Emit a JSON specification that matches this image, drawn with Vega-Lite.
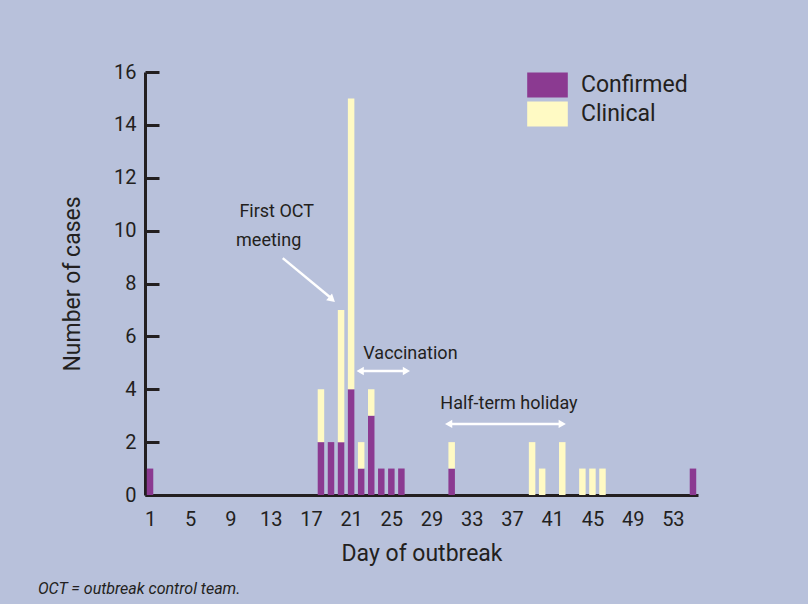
{
  "$schema": "https://vega.github.io/schema/vega-lite/v6.json",
  "autosize": "none",
  "padding": {"left": 145, "top": 72, "right": 110, "bottom": 109},
  "width": 553,
  "height": 423,
  "background": "#b8c1db",
  "config": {
    "font": "Roboto",
    "view": {"stroke": null},
    "text": {"font": "Roboto", "color": "#231f20"}
  },
  "datasets": {
    "cases": [
      {"day": 1, "status": "Confirmed", "n": 1},
      {"day": 18, "status": "Confirmed", "n": 2},
      {"day": 18, "status": "Clinical", "n": 2},
      {"day": 19, "status": "Confirmed", "n": 2},
      {"day": 20, "status": "Confirmed", "n": 2},
      {"day": 20, "status": "Clinical", "n": 5},
      {"day": 21, "status": "Confirmed", "n": 4},
      {"day": 21, "status": "Clinical", "n": 11},
      {"day": 22, "status": "Confirmed", "n": 1},
      {"day": 22, "status": "Clinical", "n": 1},
      {"day": 23, "status": "Confirmed", "n": 3},
      {"day": 23, "status": "Clinical", "n": 1},
      {"day": 24, "status": "Confirmed", "n": 1},
      {"day": 25, "status": "Confirmed", "n": 1},
      {"day": 26, "status": "Confirmed", "n": 1},
      {"day": 31, "status": "Confirmed", "n": 1},
      {"day": 31, "status": "Clinical", "n": 1},
      {"day": 39, "status": "Clinical", "n": 2},
      {"day": 40, "status": "Clinical", "n": 1},
      {"day": 42, "status": "Clinical", "n": 2},
      {"day": 44, "status": "Clinical", "n": 1},
      {"day": 45, "status": "Clinical", "n": 1},
      {"day": 46, "status": "Clinical", "n": 1},
      {"day": 55, "status": "Confirmed", "n": 1}
    ],
    "notes": [
      {"label": "First OCT", "day": 13.6, "cases": 10.7},
      {"label": "meeting", "day": 12.8, "cases": 9.62},
      {"label": "Vaccination", "day": 26.9, "cases": 5.33},
      {"label": "Half-term holiday", "day": 36.7, "cases": 3.44}
    ],
    "arrows": [
      {"day": 14.2, "cases": 8.96, "day2": 19.0, "cases2": 7.45},
      {"day": 21.9, "cases": 4.69, "day2": 26.4, "cases2": 4.69},
      {"day": 30.7, "cases": 2.69, "day2": 41.9, "cases2": 2.69}
    ],
    "heads": [
      {"dir": "diag", "day": 19.1, "cases": 7.4},
      {"dir": "left", "day": 21.9, "cases": 4.69},
      {"dir": "right", "day": 26.5, "cases": 4.69},
      {"dir": "left", "day": 30.7, "cases": 2.69},
      {"dir": "right", "day": 42.0, "cases": 2.69}
    ],
    "foot": [
      {"label": "OCT = outbreak control team.", "day": -10.15, "cases": -3.56}
    ]
  },
  "layer": [
    {
      "data": {"name": "cases"},
      "mark": {"type": "bar", "width": 6.5},
      "encoding": {
        "x": {
          "field": "day", "type": "quantitative",
          "scale": {"domain": [0.5, 55.5], "nice": false, "zero": false, "padding": 0},
          "axis": {
            "values": [1, 5, 9, 13, 17, 21, 25, 29, 33, 37, 41, 45, 49, 53],
            "ticks": false, "grid": false,
            "domainWidth": 3, "domainColor": "#231f20",
            "labelFontSize": 20, "labelColor": "#231f20", "labelPadding": 14,
            "labelFont": "Roboto",
            "title": "Day of outbreak", "titleFontSize": 23, "titleFontWeight": "normal",
            "titleColor": "#231f20", "titlePadding": 13, "titleFont": "Roboto"
          }
        },
        "y": {
          "field": "n", "type": "quantitative", "aggregate": "sum", "stack": "zero",
          "scale": {"domain": [0, 16], "nice": false},
          "axis": {
            "values": [0, 2, 4, 6, 8, 10, 12, 14, 16],
            "grid": false,
            "domainWidth": 3, "domainColor": "#231f20",
            "tickSize": -14, "tickWidth": 3, "tickColor": "#231f20",
            "labelFontSize": 20, "labelColor": "#231f20", "labelPadding": 23,
            "labelFont": "Roboto",
            "title": "Number of cases", "titleFontSize": 23, "titleFontWeight": "normal",
            "titleColor": "#231f20", "titlePadding": 29, "titleFont": "Roboto"
          }
        },
        "color": {
          "field": "status", "type": "nominal",
          "scale": {"domain": ["Confirmed", "Clinical"], "range": ["#8b3a91", "#fffac4"]},
          "legend": {
            "title": null,
            "orient": "none", "legendX": 388, "legendY": -1.5,
            "padding": 0,
            "symbolType": "M-1.4,-0.86H1.4V0.86H-1.4Z",
            "symbolSize": 841,
            "symbolStrokeWidth": 0,
            "labelFontSize": 23, "labelColor": "#231f20", "labelFont": "Roboto",
            "labelOffset": 19,
            "rowPadding": 2
          }
        },
        "order": {"field": "status", "sort": "descending"}
      }
    },
    {
      "data": {"name": "notes"},
      "mark": {"type": "text", "fontSize": 18, "align": "center", "baseline": "middle"},
      "encoding": {
        "x": {"field": "day", "type": "quantitative"},
        "y": {"field": "cases", "type": "quantitative"},
        "text": {"field": "label"}
      }
    },
    {
      "data": {"name": "arrows"},
      "mark": {"type": "rule", "color": "white", "strokeWidth": 2.5},
      "encoding": {
        "x": {"field": "day", "type": "quantitative"},
        "y": {"field": "cases", "type": "quantitative"},
        "x2": {"field": "day2"},
        "y2": {"field": "cases2"}
      }
    },
    {
      "data": {"name": "heads"},
      "transform": [{"filter": "datum.dir === 'left'"}],
      "mark": {"type": "point", "shape": "triangle-left", "filled": true, "color": "white", "opacity": 1, "size": 70},
      "encoding": {
        "x": {"field": "day", "type": "quantitative"},
        "y": {"field": "cases", "type": "quantitative"}
      }
    },
    {
      "data": {"name": "heads"},
      "transform": [{"filter": "datum.dir === 'right'"}],
      "mark": {"type": "point", "shape": "triangle-right", "filled": true, "color": "white", "opacity": 1, "size": 70},
      "encoding": {
        "x": {"field": "day", "type": "quantitative"},
        "y": {"field": "cases", "type": "quantitative"}
      }
    },
    {
      "data": {"name": "heads"},
      "transform": [{"filter": "datum.dir === 'diag'"}],
      "mark": {"type": "point", "shape": "triangle-right", "angle": 41, "filled": true, "color": "white", "opacity": 1, "size": 80},
      "encoding": {
        "x": {"field": "day", "type": "quantitative"},
        "y": {"field": "cases", "type": "quantitative"}
      }
    },
    {
      "data": {"name": "foot"},
      "mark": {"type": "text", "fontSize": 16, "fontStyle": "italic", "align": "left", "baseline": "middle"},
      "encoding": {
        "x": {"field": "day", "type": "quantitative"},
        "y": {"field": "cases", "type": "quantitative"},
        "text": {"field": "label"}
      }
    }
  ]
}
